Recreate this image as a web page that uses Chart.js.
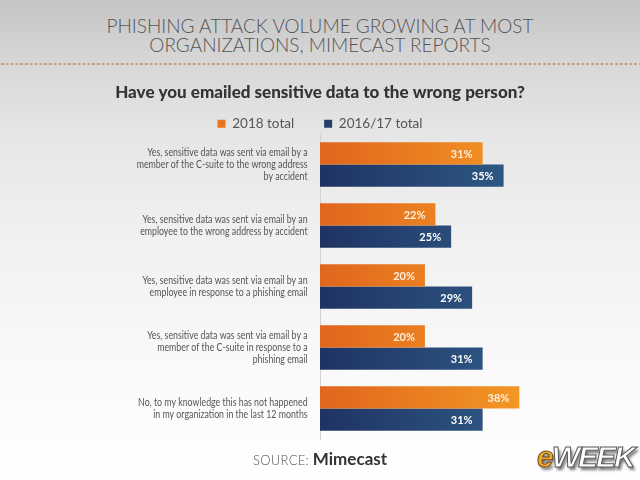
<!DOCTYPE html>
<html>
<head>
<meta charset="utf-8">
<script src="https://cdn.jsdelivr.net/npm/chart.js@4/dist/chart.umd.min.js"></script>
<style>
  html, body { margin:0; padding:0; }
  body {
    width:640px; height:480px; overflow:hidden; position:relative;
    background: linear-gradient(to bottom, #c4c4c4 0%, #d6d6d6 12%, #e6e6e6 28%, #f1f1f1 50%, #f9f9f9 75%, #ffffff 100%);
    font-family: Lato, "Open Sans", sans-serif;
  }
  #head {
    position:absolute; left:0; top:16px; width:640px; text-align:center;
    font-family: Lato, sans-serif; font-weight:300; font-size:19px; line-height:19px;
    color:#555;
  }
  #dots {
    position:absolute; left:0; top:62px; width:640px; height:4px;
    background-image: radial-gradient(circle, #c98e5c 0.9px, rgba(0,0,0,0) 1.4px);
    background-size: 4.8px 4px;
  }
  #src {
    position:absolute; left:0; top:448px; width:640px; text-align:center;
    color:#555; font-family: Lato, sans-serif;
  }
  #src .a { font-size:13px; font-weight:300; letter-spacing:0.3px; }
  #src .b { font-size:17px; font-weight:700; color:#333; }
  #logo {
    position:absolute; left:537px; top:440px;
    font-family: "Liberation Sans", Arial, sans-serif; font-weight:900; font-style:italic;
    font-size:30px; letter-spacing:-2px;
    text-shadow: 2px 3px 3px rgba(0,0,0,0.55);
  }
  #logo .e { color:#eea832; -webkit-text-stroke:1px #6b4a10; }
  #logo .w { color:#ffffff; -webkit-text-stroke:1px #555; }
  #c { position:absolute; left:0; top:0; }
</style>
</head>
<body>
<div id="head">PHISHING ATTACK VOLUME GROWING AT MOST<br>ORGANIZATIONS, MIMECAST REPORTS</div>
<div id="dots"></div>
<canvas id="c" width="640" height="480"></canvas>
<div id="src"><span class="a">SOURCE: </span><span class="b">Mimecast</span></div>
<div id="logo"><span class="e">e</span><span class="w">WEEK</span></div>
<script>
const categories = [
  ["Yes, sensitive data was sent via email by a", "member of the C-suite to the wrong address", "by accident"],
  ["Yes, sensitive data was sent via email by an", "employee to the wrong address by accident"],
  ["Yes, sensitive data was sent via email by an", "employee in response to a phishing email"],
  ["Yes, sensitive data was sent via email by a", "member of the C-suite in response to a", "phishing email"],
  ["No, to my knowledge this has not happened", "in my organization in the last 12 months"]
];
const series2018 = [31, 22, 20, 20, 38];
const series2016 = [35, 25, 29, 31, 31];
const seriesNames = ["2018 total", "2016/17 total"];
const chartTitle = "Have you emailed sensitive data to the wrong person?";

function grad(ctx, c1, c2) {
  const chart = ctx.chart;
  const a = chart.chartArea;
  if (!a) return c2;
  const g = chart.ctx.createLinearGradient(a.left, 0, a.left + 200, 0);
  g.addColorStop(0, c1);
  g.addColorStop(1, c2);
  return g;
}

const valueLabels = {
  id: 'valueLabels',
  afterDatasetsDraw(chart) {
    const ctx = chart.ctx;
    ctx.save();
    ctx.font = 'bold 11px Lato, sans-serif';
    ctx.textAlign = 'right';
    ctx.textBaseline = 'middle';
    chart.data.datasets.forEach((ds, di) => {
      const meta = chart.getDatasetMeta(di);
      meta.data.forEach((bar, i) => {
        ctx.fillStyle = di === 0 ? '#fff0dc' : '#ffffff';
        ctx.fillText(ds.data[i] + '%', bar.x - 10, bar.y + 1);
      });
    });
    ctx.restore();
  }
};

// Draw the category tick labels slightly condensed (the original uses a narrow sans face)
const condenseTicks = {
  id: 'condenseTicks',
  afterLayout(chart) {
    const s = chart.scales.y;
    if (!s || s._condensed) return;
    const orig = s.drawLabels;
    s.drawLabels = function (ca) {
      const ctx = this.ctx;
      const x0 = this.right - this.options.ticks.padding;
      ctx.save();
      ctx.translate(x0, 0);
      ctx.scale(0.8, 1);
      ctx.translate(-x0, 0);
      orig.call(this, ca);
      ctx.restore();
    };
    s._condensed = true;
  }
};

new Chart(document.getElementById('c'), {
  type: 'bar',
  data: {
    labels: categories,
    datasets: [
      {
        label: seriesNames[0],
        data: series2018,
        backgroundColor: (ctx) => grad(ctx, '#e0661d', '#f39624'),
        borderWidth: 0,
        categoryPercentage: 0.73,
        barPercentage: 1.0
      },
      {
        label: seriesNames[1],
        data: series2016,
        backgroundColor: (ctx) => grad(ctx, '#1f3362', '#2f5a86'),
        borderWidth: 0,
        categoryPercentage: 0.73,
        barPercentage: 1.0
      }
    ]
  },
  options: {
    indexAxis: 'y',
    responsive: false,
    animation: false,
    layout: { padding: { top: 82, bottom: 41, left: 0, right: 0 } },
    plugins: {
      title: {
        display: true,
        text: chartTitle,
        color: '#333',
        font: { family: 'Lato, sans-serif', size: 17, weight: '900' },
        padding: { top: 0, bottom: -15.4 }
      },
      legend: {
        display: true,
        maxHeight: 47,
        labels: {
          generateLabels: (chart) => chart.data.datasets.map((ds, i) => ({
            text: ds.label,
            fillStyle: i === 0 ? '#e8761f' : '#253d6b',
            strokeStyle: 'rgba(0,0,0,0)',
            lineWidth: 0,
            fontColor: '#555',
            datasetIndex: i
          })),
          boxWidth: 8,
          boxHeight: 8,
          padding: 30,
          color: '#555',
          font: { family: 'Lato, sans-serif', size: 13.5 }
        }
      },
      tooltip: { enabled: false }
    },
    scales: {
      x: {
        display: false,
        min: 0,
        max: 61
      },
      y: {
        grid: { display: false },
        border: { display: true, color: '#d2d2d2', width: 1 },
        ticks: {
          color: '#555',
          font: { family: 'Lato, sans-serif', size: 11, lineHeight: 1.08 },
          padding: 6
        },
        afterFit(scale) { scale.width = 320; }
      }
    }
  },
  plugins: [valueLabels, condenseTicks]
});
</script>
</body>
</html>
